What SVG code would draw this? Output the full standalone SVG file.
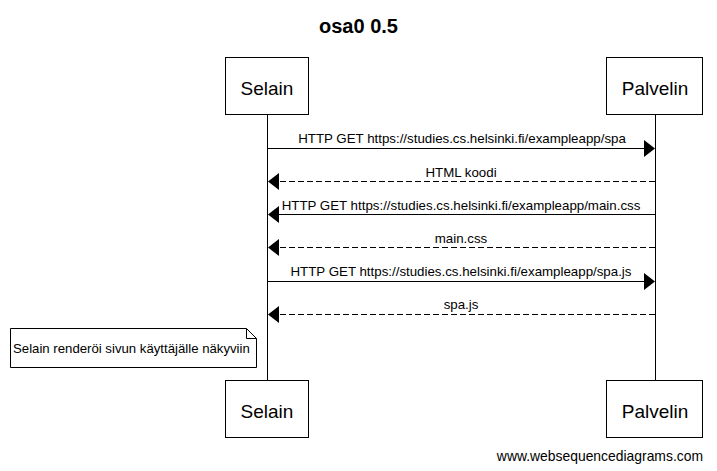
<svg xmlns="http://www.w3.org/2000/svg" width="717" height="471" viewBox="0 0 717 471">
<style>
text{font-family:"Liberation Sans",Arial,sans-serif;fill:#000}
.box{fill:#fff;stroke:#000;stroke-width:1}
.pl{font-size:19px;text-anchor:middle}
.lbl{font-size:13.3px;text-anchor:middle}
.life{stroke:#000;stroke-width:1}
.msg{stroke:#000;stroke-width:1;fill:none}
.dash{stroke-dasharray:6,3}
.head{fill:#000}
</style>
<rect width="717" height="471" fill="#fff"/>
<text x="358.5" y="33" style="font-size:20px;font-weight:bold;text-anchor:middle">osa0 0.5</text>
<g id="lifelines">
<line class="life" x1="267.5" y1="114" x2="267.5" y2="380"/>
<line class="life" x1="655.5" y1="114" x2="655.5" y2="380"/>
</g>
<g id="selain-top"><rect class="box" x="225.5" y="57.5" width="83" height="57"/><text class="pl" x="267" y="95">Selain</text></g>
<g id="palvelin-top"><rect class="box" x="606.5" y="57.5" width="96" height="57"/><text class="pl" x="655" y="95">Palvelin</text></g>
<g id="selain-bottom"><rect class="box" x="225.5" y="380.5" width="83" height="57"/><text class="pl" x="267" y="418">Selain</text></g>
<g id="palvelin-bottom"><rect class="box" x="606.5" y="380.5" width="96" height="57"/><text class="pl" x="655" y="418">Palvelin</text></g>
<g id="connectors">
<line class="msg" x1="267" y1="148.5" x2="645" y2="148.5"/>
<polygon class="head" points="644,140 655,148.5 644,157"/>
<text class="lbl" x="462" y="143">HTTP GET https://studies.cs.helsinki.fi/exampleapp/spa</text>

<line class="msg dash" x1="655" y1="181.5" x2="278" y2="181.5"/>
<polygon class="head" points="279,173 268,181.5 279,190"/>
<text class="lbl" x="461" y="177">HTML koodi</text>

<line class="msg" x1="655" y1="214.5" x2="278" y2="214.5"/>
<polygon class="head" points="279,206 268,214.5 279,223"/>
<text class="lbl" x="461" y="210">HTTP GET https://studies.cs.helsinki.fi/exampleapp/main.css</text>

<line class="msg dash" x1="655" y1="247.5" x2="278" y2="247.5"/>
<polygon class="head" points="279,239 268,247.5 279,256"/>
<text class="lbl" x="461" y="243">main.css</text>

<line class="msg" x1="267" y1="281.5" x2="645" y2="281.5"/>
<polygon class="head" points="644,273 655,281.5 644,290"/>
<text class="lbl" x="461" y="276">HTTP GET https://studies.cs.helsinki.fi/exampleapp/spa.js</text>

<line class="msg dash" x1="655" y1="314.5" x2="278" y2="314.5"/>
<polygon class="head" points="279,306 268,314.5 279,323"/>
<text class="lbl" x="461" y="309">spa.js</text>
</g>
<g id="note">
<path d="M10.5,328.5 H246.5 L256.5,338.5 V367.5 H10.5 Z" fill="#fff" stroke="#000"/>
<path d="M246.5,328.5 V338.5 H256.5" fill="none" stroke="#000"/>
<text x="13" y="353" style="font-size:13.2px">Selain renderöi sivun käyttäjälle näkyviin</text>
</g>
<text x="703" y="461" style="font-size:13.9px;text-anchor:end">www.websequencediagrams.com</text>
</svg>
